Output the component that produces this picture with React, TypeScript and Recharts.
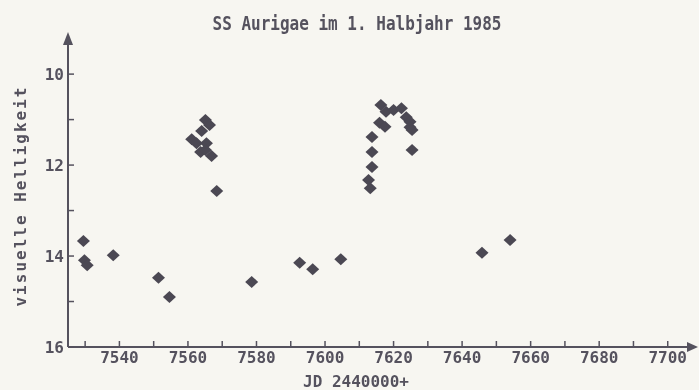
import { ScatterChart, Scatter, XAxis, YAxis, ReferenceDot } from "recharts"

// Julian date (JD 2440000+) and visual magnitude
const jd = [
  7529.5, 7529.8, 7530.6, 7538.2, 7551.4, 7554.6,
  7561.1, 7562.5, 7564.0, 7565.1, 7566.3, 7565.4, 7563.7, 7565.1, 7566.9, 7568.4,
  7578.6, 7592.6, 7596.4, 7604.6,
  7616.3, 7617.8, 7620.0, 7622.3, 7623.7, 7624.8, 7624.8, 7625.4, 7625.4,
  7615.9, 7617.5, 7613.7, 7613.7, 7613.7, 7612.7, 7613.2,
  7645.8, 7654.0
]
const mag = [
  13.67, 14.09, 14.2, 13.98, 14.48, 14.9,
  11.43, 11.52, 11.25, 11.01, 11.12, 11.52, 11.71, 11.67, 11.8, 12.57,
  14.57, 14.15, 14.29, 14.07,
  10.68, 10.83, 10.79, 10.75, 10.95, 11.05, 11.17, 11.23, 11.67,
  11.07, 11.16, 11.38, 11.71, 12.04, 12.33, 12.51,
  13.93, 13.65
]

const xTicks = [7530, 7540, 7550, 7560, 7570, 7580, 7590, 7600, 7610, 7620, 7630, 7640, 7650, 7660, 7670, 7680, 7690, 7700]
const yTicks = [10, 11, 12, 13, 14, 15, 16]

const points = jd.map((d, i) => ({ jd: d, mag: mag[i] }))

const ink = "#55525e"
const font = "'DejaVu Sans Mono', monospace"

function Diamond(props: any) {
  const { cx, cy } = props
  return (
    <polygon
      points={`${cx},${cy - 6} ${cx + 6.5},${cy} ${cx},${cy + 6} ${cx - 6.5},${cy}`}
      fill="#4b4853"
    />
  )
}

function UpArrow(props: any) {
  const { cx, cy } = props
  return <polygon points={`${cx},${cy - 3} ${cx + 5},${cy + 10} ${cx - 5},${cy + 10}`} fill={ink} />
}

function RightArrow(props: any) {
  const { cx, cy } = props
  return <polygon points={`${cx + 8},${cy} ${cx - 3},${cy - 5} ${cx - 3},${cy + 5}`} fill={ink} />
}

export default function App() {
  return (
    <div style={{ position: "fixed", left: 0, top: 0, width: 699, height: 390, background: "#f7f6f1", fontFamily: font }}>

      <div style={{ position: "absolute", left: 0, width: 714, top: 14, textAlign: "center", fontWeight: "bold", fontSize: 16, color: ink, transform: "scaleY(1.2)" }}>
        SS Aurigae im 1. Halbjahr 1985
      </div>

      <div style={{ position: "absolute", left: 20, top: 196, width: 0, height: 0 }}>
        <div style={{ position: "absolute", transform: "translate(-50%, -50%) rotate(-90deg)", whiteSpace: "nowrap", fontWeight: "bold", fontSize: 16, letterSpacing: 2, color: ink }}>
          visuelle Helligkeit
        </div>
      </div>

      <div style={{ position: "absolute", left: 303, top: 372, fontWeight: "bold", fontSize: 16, color: ink }}>
        JD 2440000+
      </div>

      <ScatterChart width={699} height={390} margin={{ top: 35, right: 9, bottom: 8, left: 8 }}>
        <XAxis
          type="number"
          dataKey="jd"
          domain={[7525, 7706.5]}
          ticks={xTicks}
          tickFormatter={(v: number) => (v % 20 === 0 ? String(v) : "")}
          allowDataOverflow
          interval={0}
          height={35}
          tickSize={-6}
          tickMargin={11}
          axisLine={{ stroke: ink, strokeWidth: 2 }}
          tickLine={{ stroke: ink, strokeWidth: 1.5 }}
          tick={{ fill: ink, fontSize: 16, fontWeight: "bold", fontFamily: font }}
        />
        <YAxis
          type="number"
          dataKey="mag"
          reversed
          domain={[9.14, 16]}
          ticks={yTicks}
          tickFormatter={(v: number) => (v % 2 === 0 ? String(v) : "")}
          allowDataOverflow
          interval={0}
          width={60}
          tickSize={-6}
          tickMargin={10}
          axisLine={{ stroke: ink, strokeWidth: 2 }}
          tickLine={{ stroke: ink, strokeWidth: 1.5 }}
          tick={{ fill: ink, fontSize: 16, fontWeight: "bold", fontFamily: font }}
        />
        <Scatter data={points} shape={<Diamond />} isAnimationActive={false} />
        <ReferenceDot x={7525} y={9.14} ifOverflow="visible" shape={<UpArrow />} />
        <ReferenceDot x={7706.5} y={16} ifOverflow="visible" shape={<RightArrow />} />
      </ScatterChart>

    </div>
  )
}
